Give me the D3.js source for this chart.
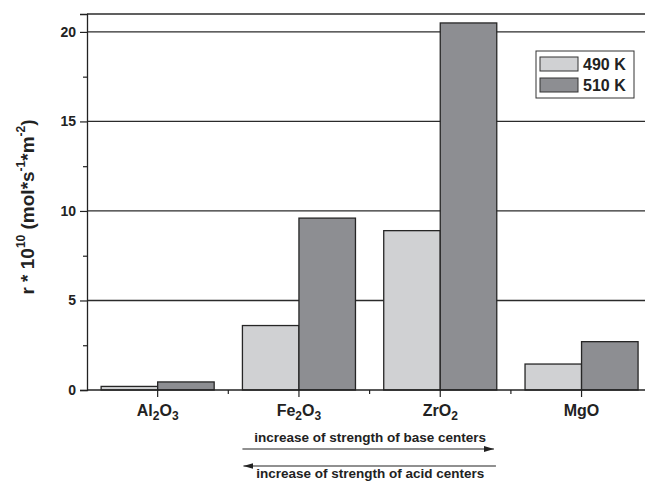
<!DOCTYPE html>
<html>
<head>
<meta charset="utf-8">
<script src="https://cdn.jsdelivr.net/npm/d3@7"></script>
<style>
  body { margin: 0; background: #fff; }
  svg { display: block; font-family: "Liberation Sans", Arial, sans-serif; font-weight: bold; }
</style>
</head>
<body>
<svg id="chart"></svg>
<script>
// data
const categories = ["Al2O3", "Fe2O3", "ZrO2", "MgO"];
const seriesNames = ["490 K", "510 K"];
const values490 = [0.2, 3.6, 8.9, 1.45];
const values510 = [0.45, 9.6, 20.5, 2.7];
const majorTicks = [0, 5, 10, 15, 20];
const minorTicks = [2.5, 7.5, 12.5, 17.5];
const seriesColors = ["#d0d1d3", "#8d8e92"];
const notes = ['increase of strength of base centers', 'increase of strength of acid centers'];

const width = 645, height = 481;
const margin = {top: 14, left: 87, bottom: 91};

const svg = d3.select('#chart').attr('width', width).attr('height', height);

const y = d3.scaleLinear().domain([0, 21]).range([height - margin.bottom, margin.top]);
const x = d3.scaleBand().domain(categories).range([margin.left, margin.left + 4 * 141.3]).padding(0);
const xSub = d3.scaleBand().domain(seriesNames).range([0, x.bandwidth()]).paddingInner(0).paddingOuter(0.25);

const rows = categories.map((c, i) => ({cat: c, vals: [values490[i], values510[i]]}));

// gridlines + top frame
svg.append('g')
  .selectAll('line')
  .data(majorTicks.filter(d => d > 0).concat([21]))
  .join('line')
  .attr('x1', margin.left).attr('x2', width)
  .attr('y1', d => y(d)).attr('y2', d => y(d))
  .attr('stroke', '#2b2b2b').attr('stroke-width', 1.3);

// bars
const groups = svg.append('g').selectAll('g')
  .data(rows)
  .join('g')
  .attr('transform', d => `translate(${x(d.cat)},0)`);

groups.selectAll('rect')
  .data(d => d.vals.map((v, j) => ({name: seriesNames[j], v: v, j: j})))
  .join('rect')
  .attr('x', d => xSub(d.name))
  .attr('width', xSub.bandwidth())
  .attr('y', d => y(d.v))
  .attr('height', d => y(0) - y(d.v))
  .attr('fill', d => seriesColors[d.j])
  .attr('stroke', '#262626')
  .attr('stroke-width', 1.3);

// y axis
const yAxis = d3.axisLeft(y).tickValues(majorTicks).tickSize(7).tickPadding(4);
const yAxisG = svg.append('g').attr('transform', `translate(${margin.left},0)`).call(yAxis);
yAxisG.append('g').call(d3.axisLeft(y).tickValues(minorTicks).tickSize(4).tickFormat(''));
yAxisG.selectAll('path.domain').attr('stroke', '#222').attr('stroke-width', 1.3);
yAxisG.selectAll('.tick line').attr('stroke', '#222').attr('stroke-width', 1.2);
yAxisG.selectAll('.tick text').attr('fill', '#222').style('font-size', '14px').style('font-weight', 'bold').style('font-family', '"Liberation Sans", Arial, sans-serif');
yAxisG.selectAll('g > g path.domain').remove();

// x axis
const xAxisG = svg.append('g').attr('transform', `translate(0,${y(0)})`);
xAxisG.append('line')
  .attr('x1', margin.left).attr('x2', width)
  .attr('stroke', '#222').attr('stroke-width', 1.3);
xAxisG.selectAll('line.major')
  .data(categories)
  .join('line')
  .attr('class', 'major')
  .attr('x1', d => x(d) + x.bandwidth() / 2).attr('x2', d => x(d) + x.bandwidth() / 2)
  .attr('y1', 0).attr('y2', 7)
  .attr('stroke', '#222').attr('stroke-width', 1.2);
xAxisG.selectAll('line.minor')
  .data(categories.slice(1))
  .join('line')
  .attr('class', 'minor')
  .attr('x1', d => x(d)).attr('x2', d => x(d))
  .attr('y1', 0).attr('y2', 4)
  .attr('stroke', '#222').attr('stroke-width', 1.2);

// category labels with subscripts
const labels = xAxisG.selectAll('text.cat')
  .data(categories)
  .join('text')
  .attr('class', 'cat')
  .attr('x', d => x(d) + x.bandwidth() / 2)
  .attr('y', 26)
  .attr('text-anchor', 'middle')
  .attr('fill', '#222')
  .style('font-size', '16px');
labels.each(function(d) {
  const t = d3.select(this);
  let sub = false;
  d.split(/(\d+)/).filter(s => s.length).forEach(part => {
    if (/^\d+$/.test(part)) {
      t.append('tspan').attr('dy', 4).style('font-size', '12px').text(part);
      sub = true;
    } else {
      t.append('tspan').attr('dy', sub ? -4 : 0).text(part);
      sub = false;
    }
  });
});

// y axis title
const yt = svg.append('text')
  .attr('transform', `translate(34,207) rotate(-90)`)
  .attr('text-anchor', 'middle')
  .attr('fill', '#222')
  .style('font-size', '19px');
yt.append('tspan').text('r * 10');
yt.append('tspan').attr('dy', -9).style('font-size', '12px').text('10');
yt.append('tspan').attr('dy', 9).text(' (mol*s');
yt.append('tspan').attr('dy', -9).style('font-size', '12px').text('-1');
yt.append('tspan').attr('dy', 9).text('*m');
yt.append('tspan').attr('dy', -9).style('font-size', '12px').text('-2');
yt.append('tspan').attr('dy', 9).text(')');

// legend
const lg = svg.append('g').attr('transform', 'translate(536,51)');
lg.append('rect').attr('width', 98).attr('height', 47)
  .attr('fill', '#fff').attr('stroke', '#333').attr('stroke-width', 1);
lg.selectAll('rect.sw')
  .data(seriesNames)
  .join('rect')
  .attr('class', 'sw')
  .attr('x', 4).attr('y', (d, i) => 6 + i * 21)
  .attr('width', 38).attr('height', 14)
  .attr('fill', (d, i) => seriesColors[i])
  .attr('stroke', '#333').attr('stroke-width', 1);
lg.selectAll('text')
  .data(seriesNames)
  .join('text')
  .attr('x', 47).attr('y', (d, i) => 19 + i * 21)
  .attr('fill', '#222')
  .style('font-size', '16px')
  .text(d => d);

// arrows beneath the axis
const defs = svg.append('defs');
defs.append('marker')
  .attr('id', 'head')
  .attr('viewBox', '0 0 10 6')
  .attr('refX', 10).attr('refY', 3)
  .attr('markerWidth', 10).attr('markerHeight', 6)
  .attr('markerUnits', 'userSpaceOnUse')
  .attr('orient', 'auto')
  .append('path').attr('d', 'M0,0L10,3L0,6Z').attr('fill', '#222');

const ax0 = x('Fe2O3') + 0.1 * x.bandwidth();
const ax1 = x('ZrO2') + 0.88 * x.bandwidth();
svg.append('line').attr('x1', ax0).attr('x2', ax1).attr('y1', 449).attr('y2', 449)
  .attr('stroke', '#222').attr('stroke-width', 1.2).attr('marker-end', 'url(#head)');
svg.append('line').attr('x1', ax1 + 2).attr('x2', ax0 + 1).attr('y1', 466).attr('y2', 466)
  .attr('stroke', '#222').attr('stroke-width', 1.2).attr('marker-end', 'url(#head)');

svg.selectAll('text.note')
  .data(notes)
  .join('text')
  .attr('class', 'note')
  .attr('x', (ax0 + ax1) / 2 + 2)
  .attr('y', (d, i) => i ? 478 : 442)
  .attr('text-anchor', 'middle')
  .attr('fill', '#222')
  .style('font-size', '13.5px')
  .text(d => d);
</script>
</body>
</html>
